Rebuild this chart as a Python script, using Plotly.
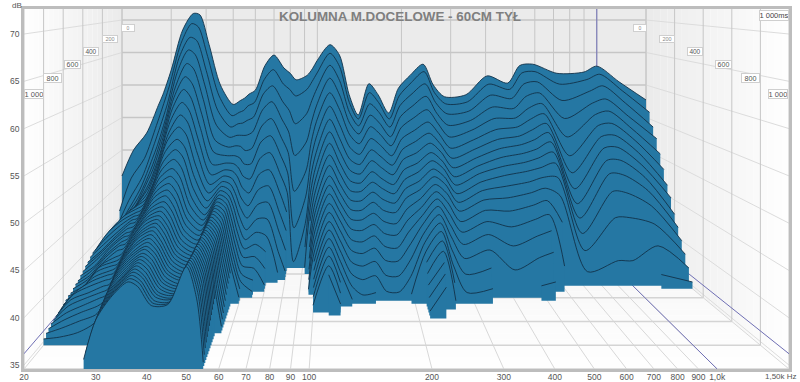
import math
import plotly.graph_objects as go

TITLE = "KOLUMNA M.DOCELOWE - 60CM TYŁ"
DB_TICKS = [35, 40, 45, 50, 55, 60, 65, 70]
HZ_TICKS = [20, 30, 40, 50, 60, 70, 80, 90, 100, 200, 300, 400, 500, 600, 700, 800, 900, 1000]
HZ_LABELS = ["20", "30", "40", "50", "60", "70", "80", "90", "100", "200", "300", "400", "500", "600", "700", "800", "900", "1,0k"]
END_LABEL = "1,50k Hz"
MS_TICKS = [0, 200, 400, 600, 800, 1000]
MS_LABELS = ["0", "200", "400", "600", "800", "1 000"]
SLICE_STEP_MS = 25
CURSOR_HZ = 1000
CURSOR_DB = 36.2

# dB against time, one slice every SLICE_STEP_MS, for each frequency
D20 = [46,41,39,38.5,38.2,38,38,38.2,38.5,38.8,39,39,39,38.8,38.5,38.3,38,37.8,37.5,37.4,37.2,37,37,36.8,36.6,36.4,36.3,36.2,36.1,36,35.8,35.6,35.3]
D22 = [50,46,43,41.5,41,40.5,40.3,40.5,41,41.2,41.5,41.5,41,40.5,40,39.8,39.5,39,38.8,38.5,38.3,38,37.8,38,38.2,38.5,38.5,38.2,37.8,37.3,36.8,36.2,35.5]
D24 = [52.6,49,46.5,45,44,43.3,43,43,43.3,43.5,43.5,43.2,42.8,42.3,42,41.8,41.5,41.3,41,40.8,40.5,40.5,40.5,40.3,40,39.8,39.5,39,38.7,38.2,37.7,37,36]
D27 = [56.9,54,51.5,49.5,48,47,46,45.5,45,44.8,44.5,44.2,44,43.8,43.6,43.3,43,42.8,42.5,42.3,42,41.5,41.2,41,40.7,40.5,40.2,39.8,39.4,39,38.4,37.7,37,36]
D28 = [58.5,56,53.5,51.3,49.8,48.5,47.4,46.6,45.9,45.3,44.9,44.5,44.2,44,43.8,43.5,43.2,43,42.8,42.5,42.2,41.8,41.5,41.2,41,40.7,40.4,40,39.7,39.3,38.9,38.5,38.1,37.8,37.5,37.2,36.9,36.6,36.3,36,35.6]
D30 = [62.3,60,57.5,55.5,54,52.5,51,50,49,48,47.5,47,46.5,46,45.7,45.3,45,44.8,44.5,44.3,44,43.8,43.5,43.3,43,42.8,42.6,42.4,42.2,42,41.8,41.6,41.4,41.2,41,40.8,40.6,40.4,40.2,40,39.8]
D33 = [68.5,66.5,64.5,62.5,60.5,59,57.5,56,54.5,53.5,52.3,51.2,50.3,49.5,48.8,48.2,47.7,47.2,46.8,46.5,46.2,46,45.7,45.4,45.2,45,44.7,44.5,44.2,44,43.8,43.6,43.4,43.2,43,42.9,42.8,42.7,42.6,42.5,42.4]
D36 = [71,69.5,67.5,65.7,63.8,62,60.3,58.6,57,55.5,54,52.8,51.7,50.7,49.9,49.2,48.6,48.1,47.6,47.2,46.9,46.6,46.4,46.2,46,45.8,45.6,45.4,45.2,45,44.9,44.7,44.6,44.5,44.4,44.3,44.2,44.1,44,43.9,43.8]
D38 = [70.8,69,67,65,63,61,59.2,57.5,56,54.5,53,51.8,50.6,49.6,48.8,48,47.4,46.8,46.4,46,45.7,45.4,45.2,45,44.8,44.6,44.5,44.4,44.3,44.2,44.1,44,43.9,43.8,43.7,43.6,43.5,43.5,43.4,43.4,43.3]
D41 = [66.2,64.5,62.5,60.5,58.5,56.5,54.7,53,51.5,50,48.7,47.5,46.5,45.7,45,44.5,44,43.6,43.3,43,42.8,42.6,42.4,42.3,42.2,42.1,42,41.9,41.8,41.8,41.7,41.6,41.6,41.5,41.5,41.4,41.4,41.4,41.3,41.3,41.3]
D45 = [60,58.5,56.5,54.5,52.5,51,49.5,48.3,47.2,46.3,45.5,44.8,44.2,43.8,43.4,43,42.7,42.4,42.2,42,41.8,41.7,41.6,41.5,41.4,41.3,41.2,41.2,41.1,41.1,41,41,41,41,41,41.1,41.1,41.2,41.2,41.3,41.4]
D50 = [57,55.5,54,52.7,51.5,50.5,49.7,49,48.4,47.9,47.5,47.2,46.9,46.7,46.5,46.3,46.2,46.1,46,45.9,45.8,45.8,45.7,45.7,45.6,45.6,45.6,45.5,45.5,45.5,45.5,45.5,45.4,45.4,45.4,45.4,45.4,45.4,45.4,45.4,45.4]
D53 = [57.6,56,54.5,53,51.7,50.5,49.6,48.8,48.1,47.5,47,46.6,46.3,46,45.8,45.6,45.4,45.2,45,44.8,44.7,44.6,44.5,44.4,44.3,44.2,44.1,44,43.9,43.8,43.7,43.6,43.5,43.4,43.3,43.2,43,42.8,42.6,42.4,42]
D55 = [58,56.3,54.6,53,51.6,50.2,49,48,47,46.2,45.5,45,44.5,44,43.6,43.2,42.8,42.5,42.2,41.9,41.6,41.3,41,40.7,40.4,40.1,39.8,39.5,39.2,38.9,38.6,38.3,38,37.7,37.4,37.1,36.8,36.5,36.2,35.8,35.3]
D57 = [58.6,57,55,53,51,49.3,47.8,46.5,45.3,44.3,43.4,42.6,41.9,41.3,40.8,40.3,39.9,39.5,39.1,38.8,38.5,38.2,37.9,37.5,37.1,36.7,36.3,35.9,35.4]
D60 = [59.2,57.5,55.5,53.5,51.3,49.3,47.4,45.7,44.2,42.8,41.5,40.5,39.6,38.8,38,37.3,36.7,36.1,35.4]
D65 = [63,61,59,56.8,54.6,52.5,50.4,48.4,46.5,44.7,43,41.5,40.2,38.9,37.7,36.5,35.4]
D70 = [64.6,62.5,60.2,58,55.7,53.4,51.2,49,47,45,43,41,39.2,37.3,35.5]
D76 = [62.6,60.3,57.8,55.3,52.8,50.4,48,45.7,43.3,41,38.5,36]
D80 = [61.8,59.5,56.5,53.5,50.7,48,45.5,43,40.7,38.3,35.8]
D84 = [60.8,58.5,54.5,50,45,40,35.5]
D92 = [61.5,59.5,56,52,48,44.5,41,38,35.5]
D96 = [62.5,60.7,58,55,52.3,50,47.8,45.8,44,42.4,40.9,39.5,38.3,37.2,36.2,35.3]
D100 = [63.8,62,59.8,57.5,55.3,53.2,51.2,49.5,48,46.6,45.3,44.2,43.2,42.2,41.2,40.2,39.3,38.5,37.7,37,36.2,35.5]
D111 = [66.2,65,63.3,61.5,59.5,57.7,56,54.4,53,51.6,50.4,49.2,48.2,47.3,46.3,45.4,44.5,43.7,42.9,42.1,41.3,40.4,39.6,38.6,37.7,36.7,35.7]
D120 = [64.6,63,61,59,57,55,53.2,51.6,50.2,49,47.8,46.8,45.8,44.9,44,43,42,41,40,39,38,37,36]
D130 = [58.5,57.5,56.2,54.8,53.3,51.7,50.2,48.9,47.7,46.6,45.6,44.6,43.6,42.6,41.5,40.4,39.2,38,36.8,35.5]
D140 = [55.4,55,54.2,53.2,52,50.7,49.5,48.4,47.4,46.5,45.5,44.5,43.5,42.4,41.2,40,38.7,37.3,35.7]
D153 = [60.2,59,57.5,56,54.5,53,51.6,50.3,49,47.8,46.7,45.6,44.4,43.2,42,40.7,39.3,37.8,36]
D165 = [58.5,57.5,56.2,54.8,53.4,52,50.6,49.3,48,46.9,45.7,44.5,43.3,42,40.6,39.1,37.5,35.8]
D180 = [55.7,55,54,52.8,51.7,50.5,49.4,48.3,47.2,46.2,45.2,44.2,43,41.8,40.4,39,37.4,35.7]
D195 = [59.5,58.5,57.2,55.8,54.4,53,51.7,50.5,49.3,48.2,47.2,46.2,45,43.8,42.5,41,39.4,37.7,35.8]
D215 = [61.5,60.5,59,57.4,55.8,54.2,52.8,51.4,50.2,49.2,48.2,47.3,46.4,45.5,44.7,43.9,43,42.1,41.2,40.2,39.1,38,36.8,35.5]
D239 = [63.2,62.2,60.5,58.8,57,55.4,54,52.8,51.7,50.8,49.9,49.1,48.3,47.6,46.9,46.2,45.4,44.6,43.8,42.9,41.9,40.8,39.7,38.4,37,35.6]
D260 = [60,59,57.7,56.3,55,53.7,52.5,51.5,50.5,49.7,48.8,48,47.1,46.1,45,43.8,42.5,41,39.4,37.6,35.7]
D285 = [58.2,57.3,56,54.5,53,51.6,50.4,49.3,48.3,47.4,46.5,45.6,44.7,43.6,42.5,41.2,39.7,38,36]
D340 = [58.5,57.6,56.4,55.2,54,52.8,51.7,50.7,49.8,49,48.1,47.2,46.2,45.1,43.9,42.5,40.8,38.8,36.5]
D405 = [61.4,60.3,58.8,57.2,55.7,54.3,53.1,52,51,50,49,47.8,46.5,45,43.2,41,38.2]
D480 = [60.3,59.5,58.3,57,55.8,54.7,53.6,52.6,51.6,50.6,49.6,48.4,47.2,45.8,44.2,42.3,39.8,36.5]
D530 = [63,62,60.5,58.8,57.2,55.8,54.5,53.3,52.2,51.2,50.1,49,47.8,46.4,44.8,43,40.5,37]
D590 = [63.2,62.2,60.8,59.3,57.9,56.6,55.4,54.3,53.2,52,50.7,49,46.8,43.5,38]
D720 = [61.8,60.3,58,55.5,53,50.5,48.3,46.3,44.5,42.8,41,39,36.5]
D900 = [62,61,59.4,57.8,56.3,54.9,53.5,52.1,50.6,49,46.8,43.5,38]
D1000 = [62.9,61.8,60.2,58.4,56.8,55.2,53.7,52.2,50.6,48.8,46.6,43.5,38]
D1200 = [60.5,59.3,57.6,55.8,54.2,52.7,51.2,49.7,48.2,46.6,44.8,42.6,40,36.5]
D1500 = [57.7,56,54,52.5,50.5,48.5,46.5,45,43,41.5,40,38.5,37,35.5]

FREQS = [20,22,24.5,27,28,30,33,36,38,41,45,50,53,55,57,60,65,70,76,80,84,92,96,100,111,120,130,140,153,165,180,195,215,239,260,285,340,405,480,530,590,720,900,1000,1200,1500]
DECAYS = [D20,D22,D24,D27,D28,D30,D33,D36,D38,D41,D45,D50,D53,D55,D57,D60,D65,D70,D76,D80,D84,D92,D96,D100,D111,D120,D130,D140,D153,D165,D180,D195,D215,D239,D260,D285,D340,D405,D480,D530,D590,D720,D900,D1000,D1200,D1500]

# ---- page geometry and the box's one-point perspective ----
W, H = 800, 382
PL, PR, PT, PB = 24, 789, 9, 369
FMIN, FMAX = 20.0, 1500.0
PX_DEC = (PR - PL) / math.log10(FMAX / FMIN)
PX_DB = 9.46
DB_BOT = 70 - (PB - 34) / PX_DB
DB_TOP = 70 + (34 - PT) / PX_DB
BACK_L, BACK_R = 122, 646
BACK_Y70, BACK_PX_DB = 20, 6.5
MS_MAX = 1000.0


def project(hz, db, ms):
    """(Hz, dB, ms) to the values on the front-plane x (log Hz) and y (dB) axes."""
    t = ms / MS_MAX
    u = math.log10(hz / FMIN)
    back_px = BACK_L + (BACK_R - BACK_L) * u / math.log10(FMAX / FMIN)
    back_u = (back_px - PL) / PX_DEC
    u_p = (1 - t) * back_u + t * u
    back_y = BACK_Y70 + (70 - db) * BACK_PX_DB
    back_db = 70 - (back_y - 34) / PX_DB
    return FMIN * 10 ** u_p, (1 - t) * back_db + t * db


def path(points):
    xs, ys = [], []
    for hz, db, ms in points:
        x, y = project(hz, db, ms)
        xs.append(x)
        ys.append(y)
    return xs, ys


fig = go.Figure()


def line(points, color, width=1.0):
    xs, ys = path(points)
    fig.add_trace(go.Scatter(x=xs, y=ys, mode="lines", line=dict(color=color, width=width), hoverinfo="skip", showlegend=False))


def poly(points, color):
    xs, ys = path(points)
    fig.add_trace(go.Scatter(x=xs, y=ys, mode="lines", fill="toself", fillcolor=color, line=dict(width=0), hoverinfo="skip", showlegend=False))


WALL_TOP = 95
# back wall
poly([(FMIN, DB_BOT, 0), (FMAX, DB_BOT, 0), (FMAX, WALL_TOP, 0), (FMIN, WALL_TOP, 0)], "#ebebeb")
# side walls and floor, gradient strips
N = 20
for i in range(N):
    a, b = MS_MAX * i / N, MS_MAX * (i + 1) / N
    g = 235 + int(20 * (i + 0.5) / N)
    col = f"rgb({g},{g},{g})"
    fl = 246 + int(9 * (i + 0.5) / N)
    poly([(FMIN, DB_BOT, a), (FMIN, WALL_TOP, a), (FMIN, WALL_TOP, b), (FMIN, DB_BOT, b)], col)
    poly([(FMAX, DB_BOT, a), (FMAX, WALL_TOP, a), (FMAX, WALL_TOP, b), (FMAX, DB_BOT, b)], col)
    poly([(FMIN, DB_BOT, a), (FMAX, DB_BOT, a), (FMAX, DB_BOT, b), (FMIN, DB_BOT, b)], f"rgb({fl},{fl},{fl})")

# gridlines
for hz in HZ_TICKS + [FMAX]:
    line([(hz, DB_BOT, 0), (hz, WALL_TOP, 0)], "#c6c6c6", 1)
    line([(hz, DB_BOT, 0), (hz, DB_BOT, MS_MAX)], "#d8d8d8", 1)
for db in DB_TICKS:
    line([(FMIN, db, 0), (FMAX, db, 0)], "#c6c6c6", 1.4)
    line([(FMIN, db, 0), (FMIN, db, MS_MAX)], "#dcdcdc", 1)
    line([(FMAX, db, 0), (FMAX, db, MS_MAX)], "#dcdcdc", 1)
for ms in MS_TICKS:
    line([(FMIN, DB_BOT, ms), (FMIN, WALL_TOP, ms)], "#c6c6c6", 1)
    line([(FMAX, DB_BOT, ms), (FMAX, WALL_TOP, ms)], "#c6c6c6", 1)
    line([(FMIN, DB_BOT, ms), (FMAX, DB_BOT, ms)], "#d4d4d4", 1.6)

# cursor lines
CUR = "#6f6fb4"
line([(CURSOR_HZ, DB_BOT, 0), (CURSOR_HZ, WALL_TOP, 0)], CUR, 1)
line([(CURSOR_HZ, DB_BOT, 0), (CURSOR_HZ, DB_BOT, MS_MAX)], CUR, 1)
line([(FMIN, CURSOR_DB, 0), (FMIN, CURSOR_DB, MS_MAX)], CUR, 1)
line([(FMAX, CURSOR_DB, 0), (FMAX, CURSOR_DB, MS_MAX)], CUR, 1)

# waterfall slices, back to front
FILL = "#2577a3"
EDGE = "#12324a"
n_slices = max(len(d) for d in DECAYS)
for i in range(n_slices):
    ms = i * SLICE_STEP_MS
    run = []
    runs = []
    for hz, d in zip(FREQS, DECAYS):
        if i < len(d):
            run.append((hz, d[i], ms))
        else:
            if run:
                runs.append(run)
            run = []
    if run:
        runs.append(run)
    for r in runs:
        if len(r) < 2:
            continue
        fx, fy = path([(hz, DB_BOT, ms) for hz, _, _ in r])
        tx, ty = path(r)
        fig.add_trace(go.Scatter(x=fx, y=fy, mode="lines", line=dict(width=0), hoverinfo="skip", showlegend=False))
        fig.add_trace(go.Scatter(x=tx, y=ty, mode="lines", fill="tonexty", fillcolor=FILL,
                                 line=dict(color=EDGE, width=0.9, shape="spline", smoothing=0.8),
                                 hoverinfo="skip", showlegend=False))


def px_ann(text, x, y, size, color="#666", box=None, bold=False, anchor="center"):
    a = dict(text=f"<b>{text}</b>" if bold else text, xref="paper", yref="paper",
             x=(x - PL) / (PR - PL), y=(PB - y) / (PB - PT), showarrow=False,
             xanchor=anchor, yanchor="middle", font=dict(size=size, color=color, family="Liberation Sans, Arial"))
    if box:
        a.update(bgcolor="white", bordercolor="#cfcfcf", borderwidth=1, borderpad=0, width=box[0], height=box[1])
    return a


anns = [px_ann(TITLE, 400, 16, 13.4, "#7f7f7f", bold=True),
        px_ann("dB", 17, 5, 8, "#555"),
        px_ann(END_LABEL, 799, 376, 8, "#555", anchor="right")]
sizes = [5, 5.5, 6.5, 7, 7.2, 7.5]
box_w = [12, 14, 14, 15, 17, 18]
box_h = [6, 6, 7, 7, 8, 8]
left_x = [128, 110, 91, 72, 52, 34]
right_x = [640, 667, 695, 723, 750, 778]
label_y = [28, 39, 51, 64, 78, 94]
for lab, s, bw, bh, lx, rx, ly in zip(MS_LABELS, sizes, box_w, box_h, left_x, right_x, label_y):
    anns.append(px_ann(lab, lx, ly, s, "#888" if s < 6 else "#555", box=(bw, bh)))
    anns.append(px_ann(lab, rx, ly, s, "#888" if s < 6 else "#555", box=(bw, bh)))
anns.append(px_ann("1 000ms", 774, 15, 7.5, "#444", box=(28, 9)))

fig.update_layout(
    width=W, height=H, autosize=False,
    margin=dict(l=PL, r=W - PR, t=PT, b=H - PB, autoexpand=False),
    paper_bgcolor="white", plot_bgcolor="white",
    showlegend=False, annotations=anns,
    font=dict(family="Liberation Sans, Arial", size=8.5, color="#555"),
    xaxis=dict(type="log", range=[math.log10(FMIN), math.log10(FMAX)], tickmode="array",
               tickvals=HZ_TICKS, ticktext=HZ_LABELS, showgrid=False, zeroline=False, ticks="",
               showline=True, mirror=True, linecolor="#bdbdbd", linewidth=2.5, tickangle=0, automargin=False,
               tickfont=dict(size=8.5, color="#555"), ticklabelstandoff=-2),
    yaxis=dict(range=[DB_BOT, DB_TOP], tickmode="array", tickvals=DB_TICKS, showgrid=False, automargin=False,
               zeroline=False, ticks="", showline=True, mirror=True, linecolor="#bdbdbd", linewidth=2.5,
               tickfont=dict(size=8.5, color="#555")),
)
fig.write_html("out.html", post_script="document.body.style.margin='0';document.body.style.overflow='hidden';",
               config={"displayModeBar": False})
